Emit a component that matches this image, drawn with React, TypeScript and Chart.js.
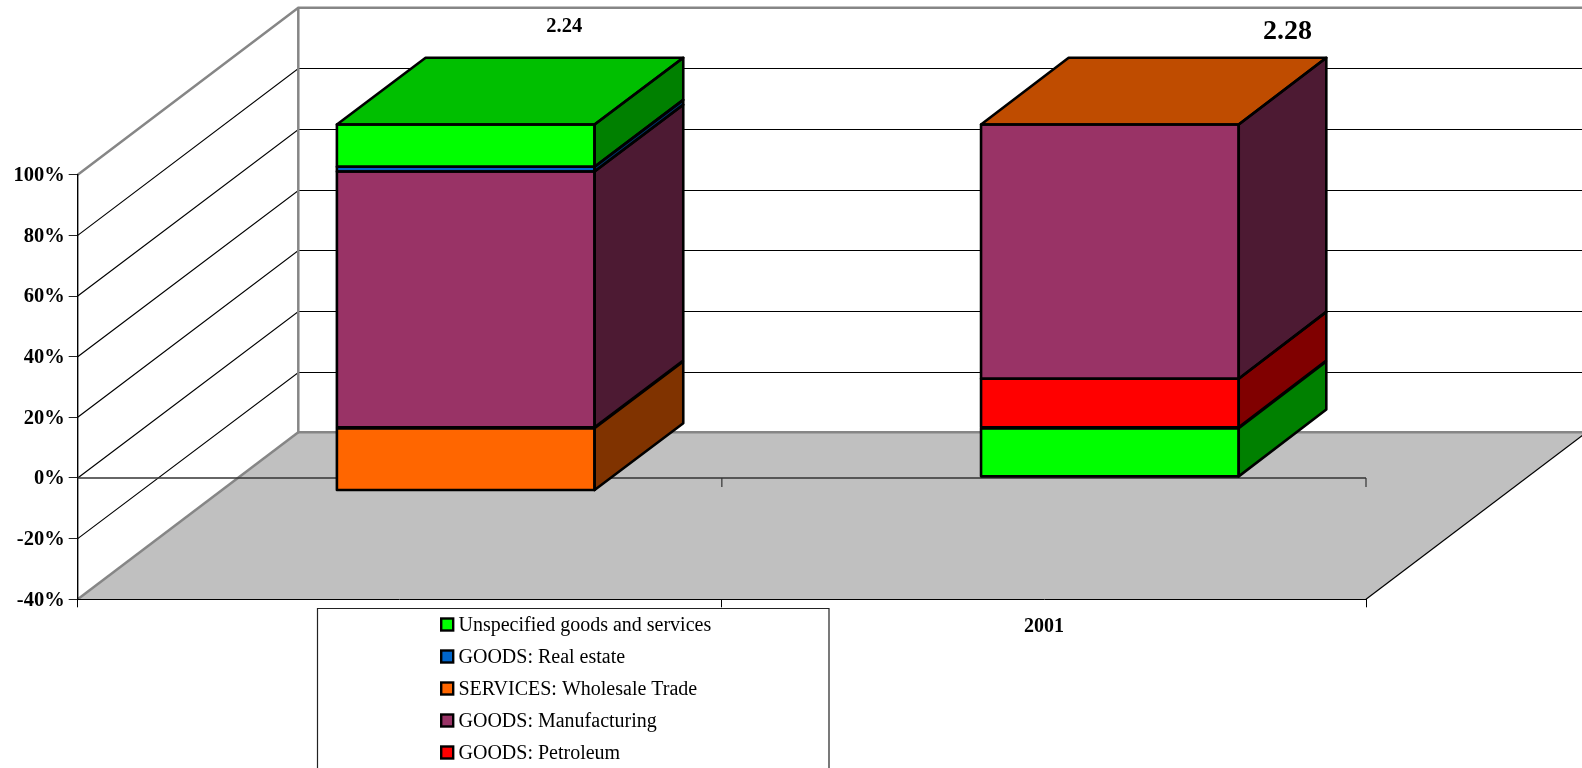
import React, { useEffect, useRef } from "react";
import { Chart, registerables } from "chart.js";

Chart.register(...registerables);

const categories = ["", "2001"];
const seriesNames = [
  "GOODS: Petroleum",
  "GOODS: Manufacturing",
  "GOODS: Real estate",
  "Unspecified goods and services",
  "SERVICES: Wholesale Trade",
];
const petroleum = [0, 16.2];
const manufacturing = [84.5, 83.8];
const realEstate = [1.6, 0];
const unspecified = [13.9, -16];
const wholesale = [-20.5, 0];
const seriesValues = [petroleum, manufacturing, realEstate, unspecified, wholesale];
const frontColors = ["#FF0000", "#993366", "#0066CC", "#00FF00", "#FF6600"];
const sideColors = ["#800000", "#4D1A33", "#003366", "#008000", "#803300"];
const topColors = ["#BF0000", "#732650", "#004C99", "#00BF00", "#BF4C00"];
const legendOrder = [3, 2, 4, 1, 0];
const totals = ["2.24", "2.28"];
const totalFonts = [20.5, 28];
const totalOffsets = [98.5, 177.5];
const totalY = [27, 32];
const barDepthX = [88.7, 87.6];

const SERIF = '"Liberation Serif", "Times New Roman", serif';
const WALL_DX = 220.6;
const WALL_DY = 167;
const BAR_DY = 66.8;
const SHIFT_X = (WALL_DX - 88.7) / 2;
const SHIFT_Y = (WALL_DY - 66.7) / 2;
const W = 1582;
const H = 768;

function poly(ctx: CanvasRenderingContext2D, pts: number[][], fill?: string, stroke?: string, lw = 1) {
  ctx.beginPath();
  pts.forEach((p, i) => (i ? ctx.lineTo(p[0], p[1]) : ctx.moveTo(p[0], p[1])));
  ctx.closePath();
  if (fill) {
    ctx.fillStyle = fill;
    ctx.fill();
  }
  if (stroke) {
    ctx.strokeStyle = stroke;
    ctx.lineWidth = lw;
    ctx.lineJoin = "round";
    ctx.stroke();
  }
}

function line(ctx: CanvasRenderingContext2D, pts: number[][], color: string, lw: number) {
  ctx.beginPath();
  pts.forEach((p, i) => (i ? ctx.lineTo(p[0], p[1]) : ctx.moveTo(p[0], p[1])));
  ctx.strokeStyle = color;
  ctx.lineWidth = lw;
  ctx.stroke();
}

function faces(chart: any, catIndex: number) {
  return seriesValues.map((_, ds) => {
    const el = chart.getDatasetMeta(ds).data[catIndex];
    return {
      ds,
      x0: el.x - el.width / 2 + SHIFT_X,
      x1: el.x + el.width / 2 + SHIFT_X,
      y0: Math.min(el.y, el.base) - SHIFT_Y,
      y1: Math.max(el.y, el.base) - SHIFT_Y,
      value: seriesValues[ds][catIndex],
    };
  });
}

function topOf(fs: ReturnType<typeof faces>) {
  let topFace = fs[0];
  fs.forEach((f) => {
    if (f.value >= 0) topFace = f;
  });
  return topFace;
}

const scene3d = {
  id: "scene3d",
  beforeDraw(chart: any) {
    const { ctx, chartArea: a, scales } = chart;
    const y = scales.y;
    const backX = a.left + WALL_DX;
    const backY = a.bottom - WALL_DY;
    ctx.save();
    poly(ctx, [
      [a.left, a.bottom],
      [a.right, a.bottom],
      [a.right + WALL_DX, backY],
      [backX, backY],
    ], "#C0C0C0");
    line(ctx, [[a.right, a.bottom], [a.right + WALL_DX, backY]], "#000", 1.2);
    y.ticks.forEach((t: any) => {
      if (t.value === y.min || t.value === y.max) return;
      const py = y.getPixelForValue(t.value);
      const by = Math.round(py - WALL_DY) + 0.5;
      line(ctx, [[a.left, py], [backX, by], [W + 20, by]], "#000", 1.2);
    });
    const top = y.getPixelForValue(y.max);
    line(ctx, [[a.left, top], [backX, top - WALL_DY], [W + 20, top - WALL_DY]], "#868686", 2.5);
    line(ctx, [[backX, top - WALL_DY], [backX, backY], [W + 20, backY]], "#868686", 2.5);
    line(ctx, [[a.left, a.bottom], [backX, backY]], "#868686", 2.5);
    ctx.restore();
  },
  beforeDatasetsDraw(chart: any) {
    const { ctx, chartArea: a, scales } = chart;
    const zero = scales.y.getPixelForValue(0);
    ctx.save();
    line(ctx, [[a.left, zero], [a.right, zero]], "#333", 1.6);
    [(a.left + a.right) / 2, a.right].forEach((tx) => {
      line(ctx, [[tx, zero], [tx, zero + 9]], "#333", 1.2);
    });
    categories.forEach((_, c) => {
      const fs = faces(chart, c);
      const dx = barDepthX[c];
      fs.forEach((f) => {
        if (f.value === 0) return;
        poly(ctx, [
          [f.x1, f.y0],
          [f.x1 + dx, f.y0 - BAR_DY],
          [f.x1 + dx, f.y1 - BAR_DY],
          [f.x1, f.y1],
        ], sideColors[f.ds]);
      });
      const t = topOf(fs);
      poly(ctx, [
        [t.x0, t.y0],
        [t.x0 + dx, t.y0 - BAR_DY],
        [t.x1 + dx, t.y0 - BAR_DY],
        [t.x1, t.y0],
      ], topColors[t.ds]);
    });
    ctx.restore();
    ctx.save();
    ctx.translate(SHIFT_X, -SHIFT_Y);
  },
  afterDatasetsDraw(chart: any) {
    const { ctx } = chart;
    ctx.restore();
    ctx.save();
    categories.forEach((_, c) => {
      const fs = faces(chart, c);
      const dx = barDepthX[c];
      const t = topOf(fs);
      const lw = 2.6;
      poly(ctx, [
        [t.x0, t.y0],
        [t.x0 + dx, t.y0 - BAR_DY],
        [t.x1 + dx, t.y0 - BAR_DY],
        [t.x1, t.y0],
      ], undefined, "#000", lw);
      fs.forEach((f) => {
        if (f.value === 0) return;
        poly(ctx, [
          [f.x1, f.y0],
          [f.x1 + dx, f.y0 - BAR_DY],
          [f.x1 + dx, f.y1 - BAR_DY],
          [f.x1, f.y1],
        ], undefined, "#000", lw);
        poly(ctx, [
          [f.x0, f.y0],
          [f.x1, f.y0],
          [f.x1, f.y1],
          [f.x0, f.y1],
        ], undefined, "#000", lw);
      });
      const cx = (fs[0].x0 + fs[0].x1) / 2;
      ctx.fillStyle = "#000";
      ctx.font = `bold ${totalFonts[c]}px ${SERIF}`;
      ctx.textAlign = "center";
      ctx.textBaseline = "middle";
      ctx.fillText(totals[c], cx + totalOffsets[c], totalY[c]);
    });
    ctx.restore();
  },
  afterDraw(chart: any) {
    const { ctx } = chart;
    ctx.save();
    const boxX = 317.5;
    const boxR = 829;
    const boxY = 608.5;
    ctx.fillStyle = "#fff";
    ctx.fillRect(boxX, boxY, boxR - boxX, H - boxY + 4);
    line(ctx, [[boxX, H + 4], [boxX, boxY], [boxR, boxY], [boxR, H + 4]], "#222", 1.2);
    ctx.textAlign = "left";
    ctx.textBaseline = "middle";
    ctx.font = `20px ${SERIF}`;
    legendOrder.forEach((ds, i) => {
      const cy = 624.5 + i * 32;
      ctx.fillStyle = frontColors[ds];
      ctx.fillRect(441.2, cy - 6, 12, 12);
      ctx.strokeStyle = "#000";
      ctx.lineWidth = 2.4;
      ctx.strokeRect(441.2, cy - 6, 12, 12);
      ctx.fillStyle = "#000";
      ctx.fillText(seriesNames[ds], 458.5, cy + 1.5);
    });
    ctx.restore();
  },
};

export default function App() {
  const ref = useRef<HTMLCanvasElement>(null);
  useEffect(() => {
    const chart = new Chart(ref.current as HTMLCanvasElement, {
      type: "bar",
      data: {
        labels: categories,
        datasets: seriesNames.map((name, i) => ({
          label: name,
          data: seriesValues[i],
          backgroundColor: frontColors[i],
          borderWidth: 0,
          barPercentage: 0.8,
          categoryPercentage: 0.5,
          clip: false as any,
        })),
      },
      options: {
        responsive: false,
        animation: false,
        layout: { padding: { left: 0, right: W - 1366, top: 174.7, bottom: 0 } },
        plugins: { legend: { display: false }, tooltip: { enabled: false }, title: { display: false } },
        scales: {
          x: {
            stacked: true,
            offset: true,
            afterFit: (s: any) => {
              s.height = H - 599.3;
            },
            grid: {
              display: true,
              offset: true,
              drawOnChartArea: false,
              drawTicks: true,
              tickLength: 8,
              color: "#000",
            },
            border: { display: true, color: "#000", width: 1 },
            ticks: {
              color: "#000",
              padding: 8,
              maxRotation: 0,
              font: { family: SERIF, size: 20, weight: "bold" },
            },
          },
          y: {
            stacked: true,
            min: -40,
            max: 100,
            afterFit: (s: any) => {
              s.width = 77.7;
            },
            grid: {
              display: true,
              drawOnChartArea: false,
              drawTicks: true,
              tickLength: 9,
              color: "#222",
            },
            border: { display: true, color: "#000", width: 1.4 },
            ticks: {
              stepSize: 20,
              color: "#000",
              padding: 4,
              labelOffset: 1,
              font: { family: SERIF, size: 20.5, weight: "bold" },
              callback: (v: any) => `${v}%`,
            },
          },
        },
      },
      plugins: [scene3d],
    } as any);
    return () => chart.destroy();
  }, []);
  return (
    <div style={{ position: "fixed", left: 0, top: 0, width: W, height: H, overflow: "hidden", background: "#fff" }}>
      <canvas ref={ref} width={W} height={H} style={{ display: "block", width: W, height: H }} />
    </div>
  );
}
